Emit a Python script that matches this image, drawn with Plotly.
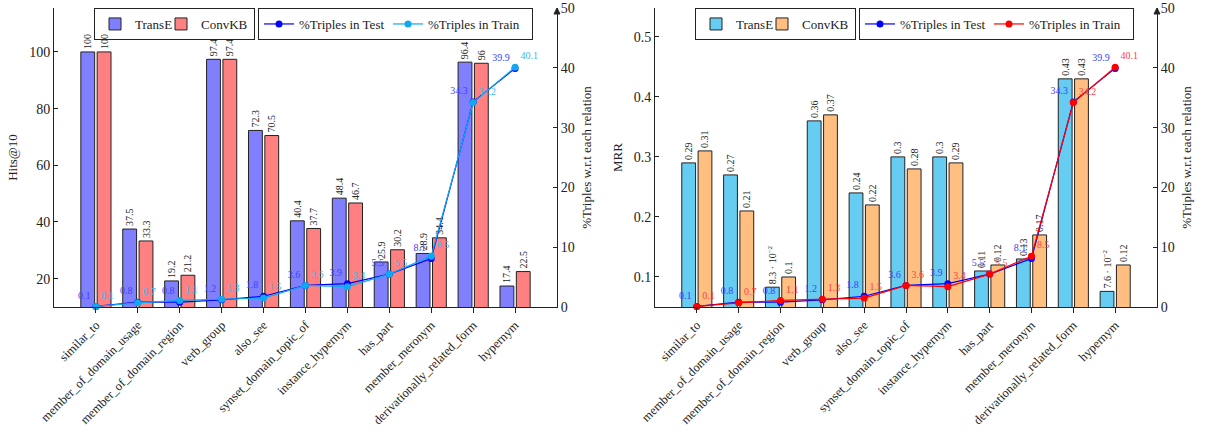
import plotly.graph_objects as go

categories = ["similar_to", "member_of_domain_usage", "member_of_domain_region", "verb_group",
              "also_see", "synset_domain_topic_of", "instance_hypernym", "has_part",
              "member_meronym", "derivationally_related_form", "hypernym"]

hits_transe = [100, 37.5, 19.2, 97.4, 72.3, 40.4, 48.4, 25.9, 28.9, 96.4, 17.4]
hits_convkb = [100, 33.3, 21.2, 97.4, 70.5, 37.7, 46.7, 30.2, 34.4, 96, 22.5]

mrr_transe = [0.29, 0.27, 0.083, 0.36, 0.24, 0.3, 0.3, 0.11, 0.13, 0.43, 0.076]
mrr_convkb = [0.31, 0.21, 0.1, 0.37, 0.22, 0.28, 0.29, 0.12, 0.17, 0.43, 0.12]

pct_test = [0.1, 0.8, 0.8, 1.2, 1.8, 3.6, 3.9, 5.5, 8.1, 34.3, 39.9]
pct_train = [0.1, 0.7, 1.1, 1.3, 1.5, 3.6, 3.4, 5.5, 8.5, 34.2, 40.1]

hits_ticks = [20, 40, 60, 80, 100]
mrr_ticks = [0.1, 0.2, 0.3, 0.4, 0.5]
pct_ticks = [0, 10, 20, 30, 40, 50]

FONT = "Liberation Serif, Tinos, Times New Roman, DejaVu Serif, serif"
INK = "#222222"


def fmt_hits(v):
    return f"{v:g}"


def fmt_mrr(v):
    if v < 0.1:
        return f"{v * 100:.1f} · 10<sup>−2</sup>"
    return f"{v:g}"


fig = go.Figure()


def add_bars(xa, ya, vals, name, color, offset, legend, lw, fmt):
    fig.add_trace(go.Bar(
        x=categories, y=vals, name=name, xaxis=xa, yaxis=ya,
        offset=offset, width=0.33,
        marker=dict(color=color, line=dict(color=INK, width=1)),
        text=[fmt(v) for v in vals], textposition="outside", textangle=-90,
        textfont=dict(family=FONT, size=10, color=INK), constraintext="none",
        cliponaxis=False, legend=legend, legendwidth=lw,
    ))


def add_line(xa, ya, vals, name, color, tcolor, tpos, legend, lw):
    fig.add_trace(go.Scatter(
        x=categories, y=vals, name=name, xaxis=xa, yaxis=ya,
        mode="lines+markers+text",
        line=dict(color=color, width=1.2),
        marker=dict(color=color, size=7),
        text=[f"{v:g}" for v in vals], textposition=tpos,
        textfont=dict(family=FONT, size=10, color=tcolor),
        cliponaxis=False, legend=legend, legendwidth=lw,
    ))


# Left chart
add_bars("x", "y", hits_transe, "TransE", "#8080FF", -0.36, "legend", 21, fmt_hits)
add_bars("x", "y", hits_convkb, "ConvKB", "#FF8080", 0.03, "legend", 48, fmt_hits)
add_line("x", "y2", pct_test, "%Triples in Test", "#0000FF", "#4040FF", "top left", "legend2", 84)
add_line("x", "y2", pct_train, "%Triples in Train", "#10A8F0", "#40B8F0", "top right", "legend2", 99)

# Right chart
add_bars("x2", "y3", mrr_transe, "TransE", "#66CCF2", -0.36, "legend3", 21, fmt_mrr)
add_bars("x2", "y3", mrr_convkb, "ConvKB", "#FFBF80", 0.03, "legend3", 48, fmt_mrr)
add_line("x2", "y4", pct_test, "%Triples in Test", "#0000FF", "#4040FF", "top left", "legend4", 84)
add_line("x2", "y4", pct_train, "%Triples in Train", "#FF0000", "#FF4040", "top right", "legend4", 99)

W, H = 1210, 435
yd = [(H - 307) / H, (H - 8) / H]
dl = [54 / W, 557 / W]
dr = [655 / W, 1157 / W]

xcommon = dict(type="category", range=[-1, 11], showline=True, linecolor=INK, linewidth=1,
               ticks="outside", ticklen=5, tickcolor=INK, tickangle=-45, automargin=False,
               tickfont=dict(family=FONT, size=12.5, color=INK), showgrid=False, zeroline=False)
ycommon = dict(showline=True, linecolor=INK, linewidth=1, ticks="inside", ticklen=4,
               tickcolor=INK, tickfont=dict(family=FONT, size=14, color=INK), automargin=False,
               showgrid=False, zeroline=False, ticklabeloverflow="allow")

legcommon = dict(orientation="h", bordercolor=INK, borderwidth=1, bgcolor="rgba(255,255,255,0)",
                 font=dict(family=FONT, size=13, color=INK), xanchor="left", yanchor="top",
                 itemwidth=30, tracegroupgap=0, entrywidthmode="pixels")

ytitle = dict(family=FONT, size=13, color=INK)
LEG_Y = (H - 8) / H

fig.update_layout(
    width=W, height=H, margin=dict(l=0, r=0, t=0, b=0, autoexpand=False),
    plot_bgcolor="white", paper_bgcolor="white", barmode="overlay",
    font=dict(family=FONT, color=INK),
    xaxis=dict(domain=dl, anchor="y", **xcommon),
    xaxis2=dict(domain=dr, anchor="y3", **xcommon),
    yaxis=dict(domain=yd, anchor="x", range=[10, 115.5], tickvals=hits_ticks,
               title=dict(text="Hits@10", font=ytitle, standoff=8), **ycommon),
    yaxis2=dict(domain=yd, anchor="x", overlaying="y", side="right", range=[0, 50],
                tickvals=pct_ticks,
                title=dict(text="%Triples w.r.t each relation", font=ytitle, standoff=8),
                **ycommon),
    yaxis3=dict(domain=yd, anchor="x2", range=[0.05, 0.548], tickvals=mrr_ticks,
                title=dict(text="MRR", font=ytitle, standoff=8), **ycommon),
    yaxis4=dict(domain=yd, anchor="x2", overlaying="y3", side="right", range=[0, 50],
                tickvals=pct_ticks,
                title=dict(text="%Triples w.r.t each relation", font=ytitle, standoff=8),
                **ycommon),
    legend=dict(x=94 / W, y=LEG_Y, **legcommon),
    legend2=dict(x=258 / W, y=LEG_Y, **legcommon),
    legend3=dict(x=695 / W, y=LEG_Y, **legcommon),
    legend4=dict(x=859 / W, y=LEG_Y, **legcommon),
    showlegend=True,
)

for xr, yr in (("x domain", "y2"), ("x2 domain", "y4")):
    fig.add_shape(type="path", xref=xr, yref=yr, xsizemode="pixel", ysizemode="pixel",
                  xanchor=1, yanchor=50, path="M-3,-6 L0,0 L3,-6 Z",
                  fillcolor=INK, line=dict(color=INK, width=1))

fig.write_html("out.html", config={"displayModeBar": False},
               post_script="document.body.style.margin='0';")
